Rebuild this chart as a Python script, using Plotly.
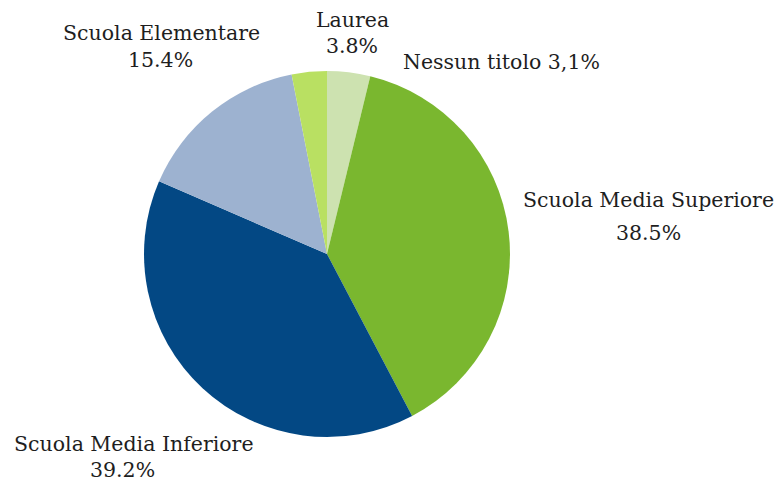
import plotly.graph_objects as go

labels = ["Laurea", "Scuola Media Superiore", "Scuola Media Inferiore", "Scuola Elementare", "Nessun titolo"]
values = [3.8, 38.5, 39.2, 15.4, 3.1]
name_texts = ["Laurea", "Scuola Media Superiore", "Scuola Media Inferiore", "Scuola Elementare", "Nessun titolo 3,1%"]
pct_texts = ["3.8%", "38.5%", "39.2%", "15.4%", ""]
colors = ["#cde2b0", "#7ab72f", "#034884", "#9db2d0", "#b9e062"]

W, H = 782, 484
cx, cy, r = 327, 254, 183

fig = go.Figure(go.Pie(
    labels=labels, values=values, sort=False, direction="clockwise", rotation=0,
    marker=dict(colors=colors, line=dict(width=0)),
    textinfo="none", hoverinfo="label+percent", showlegend=False,
    domain=dict(x=[(cx - r) / W, (cx + r) / W], y=[(H - cy - r) / H, (H - cy + r) / H]),
))

# text centres in pixels: (name x, name y, pct x, pct y)
pos = [(352, 20, 352, 46), (648, 200, 648, 233), (134, 444, 122, 470),
       (161, 33, 160, 60), (501, 62, 0, 0)]
font = dict(family="DejaVu Serif, serif", size=20.5, color="#1e1e1e")
for n, p, (nx, ny, px, py) in zip(name_texts, pct_texts, pos):
    fig.add_annotation(x=nx / W, y=1 - ny / H, xref="paper", yref="paper", text=n,
                       showarrow=False, xanchor="center", yanchor="middle", font=font)
    if p:
        fig.add_annotation(x=px / W, y=1 - py / H, xref="paper", yref="paper", text=p,
                           showarrow=False, xanchor="center", yanchor="middle", font=font)

fig.update_layout(width=W, height=H, margin=dict(l=0, r=0, t=0, b=0),
                  paper_bgcolor="white", plot_bgcolor="white")
fig.write_html("out.html", config={"displayModeBar": False},
               post_script="document.body.style.margin='0';")
